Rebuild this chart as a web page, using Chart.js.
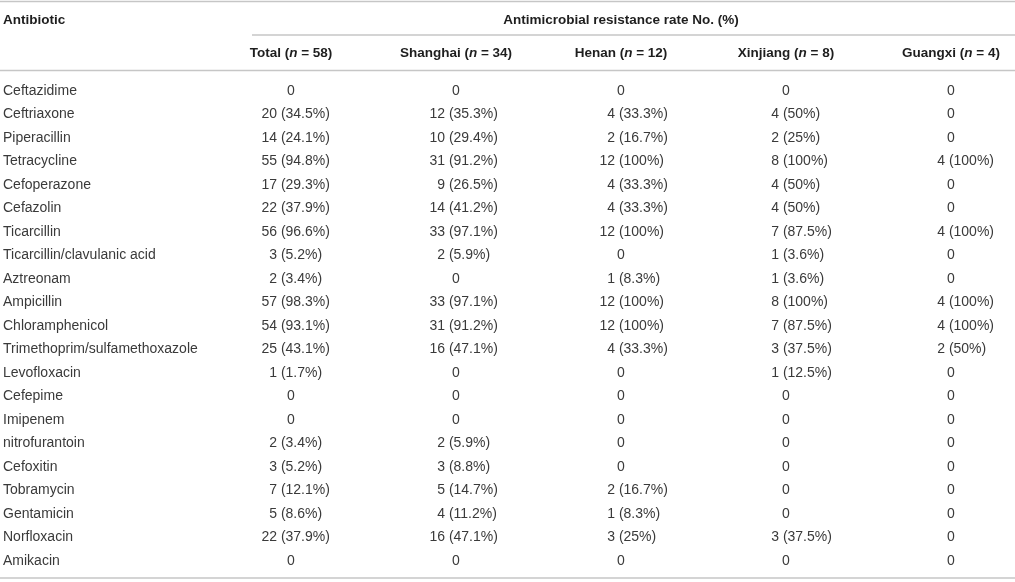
<!DOCTYPE html>
<html>
<head>
<meta charset="utf-8">
<script src="https://cdn.jsdelivr.net/npm/chart.js@4.4.1/dist/chart.umd.min.js"></script>
<style>
  html, body { margin: 0; padding: 0; background: #ffffff; }
  #wrap { width: 1015px; height: 582px; position: relative; }
</style>
</head>
<body>
<div id="wrap"><canvas id="c"></canvas></div>
<script>
// ---------- DATA ----------
const antibiotics = [
  'Ceftazidime', 'Ceftriaxone', 'Piperacillin', 'Tetracycline', 'Cefoperazone',
  'Cefazolin', 'Ticarcillin', 'Ticarcillin/clavulanic acid', 'Aztreonam', 'Ampicillin',
  'Chloramphenicol', 'Trimethoprim/sulfamethoxazole', 'Levofloxacin', 'Cefepime', 'Imipenem',
  'nitrofurantoin', 'Cefoxitin', 'Tobramycin', 'Gentamicin', 'Norfloxacin', 'Amikacin'
];
const regions = ['Total', 'Shanghai', 'Henan', 'Xinjiang', 'Guangxi'];
const regionN = [58, 34, 12, 8, 4];

const totalCounts    = [0, 20, 14, 55, 17, 22, 56, 3, 2, 57, 54, 25, 1, 0, 0, 2, 3, 7, 5, 22, 0];
const totalPct       = [null, 34.5, 24.1, 94.8, 29.3, 37.9, 96.6, 5.2, 3.4, 98.3, 93.1, 43.1, 1.7, null, null, 3.4, 5.2, 12.1, 8.6, 37.9, null];
const shanghaiCounts = [0, 12, 10, 31, 9, 14, 33, 2, 0, 33, 31, 16, 0, 0, 0, 2, 3, 5, 4, 16, 0];
const shanghaiPct    = [null, 35.3, 29.4, 91.2, 26.5, 41.2, 97.1, 5.9, null, 97.1, 91.2, 47.1, null, null, null, 5.9, 8.8, 14.7, 11.2, 47.1, null];
const henanCounts    = [0, 4, 2, 12, 4, 4, 12, 0, 1, 12, 12, 4, 0, 0, 0, 0, 0, 2, 1, 3, 0];
const henanPct       = [null, 33.3, 16.7, 100, 33.3, 33.3, 100, null, 8.3, 100, 100, 33.3, null, null, null, null, null, 16.7, 8.3, 25, null];
const xinjiangCounts = [0, 4, 2, 8, 4, 4, 7, 1, 1, 8, 7, 3, 1, 0, 0, 0, 0, 0, 0, 3, 0];
const xinjiangPct    = [null, 50, 25, 100, 50, 50, 87.5, 3.6, 3.6, 100, 87.5, 37.5, 12.5, null, null, null, null, null, null, 37.5, null];
const guangxiCounts  = [0, 0, 0, 4, 0, 0, 4, 0, 0, 4, 4, 2, 0, 0, 0, 0, 0, 0, 0, 0, 0];
const guangxiPct     = [null, null, null, 100, null, null, 100, null, null, 100, 100, 50, null, null, null, null, null, null, null, null, null];

const headerTitle = 'Antimicrobial resistance rate No. (%)';
const rowHeader = 'Antibiotic';

// ---------- STYLE ----------
const counts = [totalCounts, shanghaiCounts, henanCounts, xinjiangCounts, guangxiCounts];
const pcts = [totalPct, shanghaiPct, henanPct, xinjiangPct, guangxiPct];

const FONT = '"Liberation Sans", Arial, Helvetica, sans-serif';
const BODY_COLOR = '#3a3a3a';
const HEAD_COLOR = '#1e1e1e';
const RULE_COLOR = '#c6c6c6';
const anchorShift = [-14, -11, -6, -7, -6];

function drawRich(ctx, parts, cx, y) {
  let total = 0;
  parts.forEach(p => { ctx.font = p.font; p.w = ctx.measureText(p.t).width; total += p.w; });
  let x = cx - total / 2;
  ctx.textAlign = 'left';
  parts.forEach(p => { ctx.font = p.font; ctx.fillText(p.t, x, y); x += p.w; });
}

const tablePlugin = {
  id: 'tableText',
  beforeDraw(chart) {
    const ctx = chart.ctx;
    const W = chart.width;
    ctx.save();
    ctx.strokeStyle = RULE_COLOR;
    ctx.lineWidth = 1.6;
    const hl = (x1, x2, y) => { ctx.beginPath(); ctx.moveTo(x1, y); ctx.lineTo(x2, y); ctx.stroke(); };
    hl(0, W, 1.5);
    hl(252, W, 35);
    hl(0, W, 70.5);
    hl(0, W, 578);
    ctx.restore();
  },
  afterDatasetsDraw(chart) {
    const ctx = chart.ctx;
    ctx.save();
    ctx.textBaseline = 'middle';
    // body cells
    ctx.font = '14px ' + FONT;
    ctx.fillStyle = BODY_COLOR;
    chart.data.datasets.forEach((ds, i) => {
      const meta = chart.getDatasetMeta(i);
      meta.data.forEach((pt, j) => {
        const c = counts[i][j], p = pcts[i][j];
        if (!c) {
          ctx.textAlign = 'center';
          ctx.fillText('0', pt.x, pt.y);
        } else {
          const ax = pt.x + anchorShift[i];
          ctx.textAlign = 'right';
          ctx.fillText(String(c), ax, pt.y);
          ctx.textAlign = 'left';
          ctx.fillText(' (' + p + '%)', ax, pt.y);
        }
      });
    });
    // headers
    ctx.fillStyle = HEAD_COLOR;
    const B = 'bold 13.5px ' + FONT;
    const BI = 'italic bold 13.5px ' + FONT;
    ctx.font = B;
    ctx.textAlign = 'left';
    ctx.fillText(rowHeader, 3, 20);
    ctx.textAlign = 'center';
    ctx.fillText(headerTitle, 621, 20);
    const xs = chart.scales.x;
    regions.forEach((r, i) => {
      drawRich(ctx, [
        { t: r + ' (', font: B },
        { t: 'n', font: BI },
        { t: ' = ' + regionN[i] + ')', font: B }
      ], xs.getPixelForValue(i), 53);
    });
    ctx.restore();
  }
};

const datasets = regions.map((r, i) => ({
  label: r,
  data: antibiotics.map((a, j) => ({ x: i, y: j })),
  pointRadius: 0,
  pointHoverRadius: 0,
  showLine: false
}));

new Chart(document.getElementById('c'), {
  type: 'scatter',
  data: { datasets },
  options: {
    responsive: true,
    maintainAspectRatio: false,
    animation: false,
    events: [],
    layout: { padding: { left: 3, right: 64, top: 91, bottom: 21 } },
    plugins: { legend: { display: false }, tooltip: { enabled: false } },
    scales: {
      x: { type: 'linear', min: 0, max: 4, display: false },
      y: {
        type: 'category',
        labels: antibiotics,
        offset: false,
        grid: { display: false, drawTicks: false },
        border: { display: false },
        ticks: {
          autoSkip: false,
          crossAlign: 'far',
          padding: 0,
          color: BODY_COLOR,
          font: { family: FONT, size: 14 }
        },
        afterFit: (s) => { s.width = 288; }
      }
    }
  },
  plugins: [tablePlugin]
});
</script>
</body>
</html>
